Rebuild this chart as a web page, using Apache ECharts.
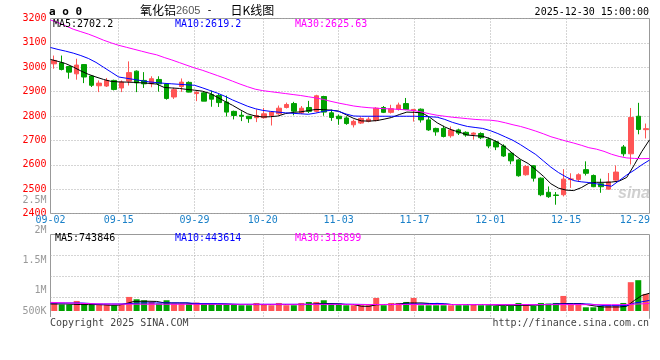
<!DOCTYPE html>
<html><head><meta charset="utf-8">
<script src="https://cdn.jsdelivr.net/npm/echarts@6.0.0/dist/echarts.min.js"></script>
<style>html,body{margin:0;padding:0;background:#fff}#c{width:660px;height:360px}</style>
</head><body><div id="c"></div>
<script>
const dates = ['09-02','09-03','09-04','09-05','09-08','09-09','09-10','09-11','09-12','09-15','09-16','09-17','09-18','09-19','09-22','09-23','09-24','09-25','09-26','09-29','09-30','10-09','10-10','10-13','10-14','10-15','10-16','10-17','10-20','10-21','10-22','10-23','10-24','10-27','10-28','10-29','10-30','10-31','11-03','11-04','11-05','11-06','11-07','11-10','11-11','11-12','11-13','11-14','11-17','11-18','11-19','11-20','11-21','11-24','11-25','11-26','11-27','11-28','12-01','12-02','12-03','12-04','12-05','12-08','12-09','12-10','12-11','12-12','12-15','12-16','12-17','12-18','12-19','12-22','12-23','12-24','12-25','12-26','12-29','12-30'];
const openP = [3014,3018,3003,2973,3011,2964,2924,2923,2946,2915, 2943,2984,2946,2932,2950,2932,2878,2921,2938,2892, 2895,2888,2884,2857,2819,2803,2799,2793,2793,2802, 2809,2835,2851,2812,2835,2819,2880,2813,2799,2792, 2764,2771,2778,2782,2835,2815,2828,2851,2822,2828, 2784,2749,2749,2719,2743,2733,2725,2728,2705,2694, 2677,2647,2620,2559,2596,2545,2487,2476,2477,2539, 2540,2580,2556,2522,2500,2537,2673,2645,2799,2744];
const closeP = [3028,2991,2980,3009,2960,2926,2935,2946,2909,2939, 2978,2936,2932,2953,2932,2872,2908,2939,2898,2897, 2861,2869,2855,2816,2802,2799,2789,2802,2809,2816, 2832,2847,2820,2832,2819,2883,2816,2794,2789,2769, 2778,2790,2787,2832,2815,2830,2845,2827,2827,2784, 2743,2735,2716,2743,2730,2722,2730,2711,2677,2673, 2636,2616,2555,2593,2545,2477,2469,2474,2541,2542, 2559,2565,2510,2510,2529,2570,2645,2794,2745,2748];
const highP = [3048,3048,3003,3035,3013,2966,2946,2956,2949,2946, 3024,2987,2980,2963,2963,2932,2916,2954,2942,2902, 2898,2904,2890,2884,2822,2819,2800,2827,2833,2820, 2843,2855,2858,2841,2862,2887,2883,2826,2806,2799, 2785,2795,2795,2836,2841,2846,2855,2874,2829,2831, 2800,2752,2760,2757,2748,2737,2733,2733,2712,2700, 2684,2650,2623,2599,2599,2548,2511,2488,2582,2565, 2565,2614,2560,2543,2566,2597,2681,2833,2854,2769];
const lowP = [2994,2987,2953,2949,2935,2919,2898,2919,2905,2898, 2925,2898,2915,2918,2900,2867,2870,2899,2897,2861, 2861,2838,2837,2798,2786,2779,2772,2775,2789,2761, 2805,2831,2803,2808,2812,2815,2801,2780,2764,2764, 2753,2767,2774,2778,2812,2810,2822,2824,2777,2773, 2739,2719,2712,2711,2722,2715,2703,2705,2668,2660, 2632,2602,2551,2555,2531,2471,2464,2436,2470,2505, 2530,2556,2508,2485,2498,2535,2634,2601,2725,2708];
const ma5 = [3032,3024,3015,3001,2985,2971,2960,2950,2942,2940, 2939,2938,2936,2934,2931,2917,2915,2913,2909,2906, 2902,2893,2877,2860,2844,2826,2809,2800,2796,2797, 2800,2810,2815,2817,2822,2827,2826,2824,2820,2805, 2790,2780,2779,2781,2787,2794,2806,2816,2815,2813, 2795,2772,2755,2742,2733,2722,2719,2717,2707,2692, 2672,2645,2622,2605,2580,2553,2522,2504,2496,2494, 2506,2524,2528,2528,2529,2533,2548,2600,2655,2702.2];
const ma10 = [3081,3073,3066,3058,3048,3036,3020,3000,2980,2960, 2955,2950,2945,2940,2937,2934,2932,2930,2928,2926, 2916,2905,2894,2881,2866,2853,2840,2830,2823,2819, 2816,2813,2811,2809,2807,2812,2819,2824,2819,2808, 2800,2799,2799,2799,2799,2799,2799,2799,2799,2798, 2797,2795,2786,2774,2765,2757,2753,2749,2740,2728, 2714,2700,2682,2662,2642,2616,2590,2568,2550,2535, 2530,2527,2522,2516,2512,2535,2558,2578,2600,2619.2];
const ma30 = [3194,3183,3170,3156,3146,3136,3124,3111,3100,3090, 3082,3074,3066,3058,3051,3040,3030,3019,3008,2997, 2988,2977,2966,2955,2943,2931,2920,2910,2904,2900, 2896,2892,2888,2884,2879,2874,2868,2860,2853,2847, 2841,2837,2834,2832,2830,2829,2827,2825,2822,2816, 2809,2803,2799,2795,2792,2789,2786,2784,2783,2779, 2772,2764,2757,2748,2738,2727,2715,2706,2697,2689, 2680,2670,2664,2655,2643,2634,2628,2626,2625,2625.63];
const volume = [353000,269000,269000,420000,269000,269000,269000,269000,239000,269000, 588000,491000,449000,378000,311000,449000,311000,311000,311000,353000, 311000,311000,269000,269000,269000,239000,239000,336000,269000,239000, 336000,239000,239000,336000,378000,378000,449000,311000,311000,239000, 239000,239000,239000,546000,239000,336000,336000,378000,546000,239000, 239000,239000,239000,239000,239000,239000,269000,239000,239000,210000, 210000,210000,336000,294000,210000,336000,311000,336000,630000,269000, 269000,155000,155000,197000,210000,210000,336000,1205000,1289000,714000];
const volMa5 = [294000,294000,294000,280000,270000,269000,269000,260000,240000,245000, 311000,400000,407000,407000,400000,340000,336000,336000,336000,300000, 294000,294000,294000,290000,275000,269000,269000,269000,269000,269000, 269000,269000,269000,269000,269000,300000,311000,311000,300000,269000, 269000,200000,197000,260000,269000,269000,290000,336000,336000,336000, 315000,311000,290000,269000,269000,269000,269000,269000,260000,239000, 239000,239000,239000,239000,245000,269000,269000,300000,311000,311000, 311000,250000,200000,168000,168000,168000,200000,440000,650000,743846];
const volMa10 = [336000,336000,336000,336000,336000,320000,294000,294000,294000,294000, 300000,320000,336000,336000,336000,336000,336000,336000,336000,320000, 311000,311000,311000,300000,290000,280000,280000,280000,280000,280000, 280000,280000,280000,280000,280000,282000,285000,290000,290000,285000, 280000,275000,270000,270000,272000,275000,280000,294000,294000,294000, 300000,320000,300000,269000,269000,269000,269000,269000,269000,269000, 269000,269000,269000,269000,269000,269000,280000,294000,294000,294000, 294000,294000,260000,225000,225000,225000,230000,330000,385000,443614];
const volMa30 = [360000,350000,340000,330000,320000,310000,300000,295000,290000,288000, 285000,284000,283000,282000,282000,281000,281000,280000,280000,280000, 280000,280000,280000,280000,280000,279000,279000,279000,278000,278000, 278000,278000,277000,277000,277000,277000,276000,276000,276000,275000, 274000,273000,272000,272000,271000,271000,271000,271000,271000,270000, 270000,270000,270000,270000,270000,269000,269000,269000,269000,268000, 268000,268000,268000,268000,268000,267000,267000,267000,267000,267000, 266000,266000,265000,265000,265000,265000,270000,285000,300000,315899];
const xLabelDates = ['09-02','09-15','09-29','10-20','11-03','11-17','12-01','12-15','12-29'];
const volTickLabels = ['500K','1M','1.5M','2M','2.5M'];

const MONO = '"DejaVu Sans Mono", monospace';
const UP = '#ff5555', DOWN = '#00a000';
const dotted = {type:[1,2], color:'#aaa', width:1};
const last = a => a[a.length - 1];
const vSplit = (i, v) => i > 0 && i < dates.length - 2 && xLabelDates.includes(v);

const chart = echarts.init(document.getElementById('c'), null, {renderer:'canvas'});
const G = {left:50.5, width:599};
const txt = (text, left, top, color, extra) => Object.assign({text, left, top, padding:0,
  textStyle:{fontFamily:MONO, fontSize:10, fontWeight:'normal', color, lineHeight:12}}, extra || {});

chart.setOption({
  animation:false,
  backgroundColor:'#fff',
  grid:[
    {left:G.left, width:G.width, top:18.5, height:195, show:true, borderColor:'#999', borderWidth:1, backgroundColor:'transparent'},
    {left:G.left, width:G.width, top:234.5, height:76.5},
    {left:G.left, width:G.width, top:234.5, height:84, show:true, borderColor:'#999', borderWidth:1, backgroundColor:'transparent'},
    {left:G.left, width:G.width, top:200, height:121}
  ],
  title:[
    txt('a o 0', 49, 6, '#000', {textStyle:{fontFamily:MONO, fontSize:11, fontWeight:'bold', color:'#000', lineHeight:12}}),
    {text:'{c|氧化铝}{n|2605}{m| - }{c|日K线图}', left:140, top:3.5, padding:0,
      textStyle:{fontWeight:'normal', rich:{
        c:{fontFamily:'"Noto Sans CJK SC"', fontSize:12, color:'#000', lineHeight:14, fontWeight:'normal'},
        n:{fontFamily:'"Liberation Sans"', fontSize:11, color:'#555', lineHeight:14, fontWeight:'normal'},
        m:{fontFamily:MONO, fontSize:10, color:'#000', lineHeight:14, fontWeight:'normal', padding:[0,12,0,0]}}}},
    txt('2025-12-30 15:00:00', null, 6, '#000', {right:11, left:undefined}),
    txt('MA5:' + last(ma5), 53, 18, '#000'),
    txt('MA10:' + last(ma10), 175, 18, '#0000ff'),
    txt('MA30:' + last(ma30), 295, 18, '#ff00ff'),
    txt('MA5:' + last(volMa5), 55, 232.5, '#000'),
    txt('MA10:' + last(volMa10), 175, 232.5, '#0000ff'),
    txt('MA30:' + last(volMa30), 295, 232.5, '#ff00ff'),
    txt('Copyright 2025 SINA.COM', 50, 317, '#444', {backgroundColor:'#fff'}),
    txt('http://finance.sina.com.cn', null, 317, '#444', {right:11, left:undefined, backgroundColor:'#fff'})
  ],
  graphic:[{type:'text', left:618, top:186, z:0, silent:true,
    style:{text:'sina', fill:'rgba(170,170,170,0.55)', font:'italic bold 16px "Liberation Sans"'}}],
  xAxis:[
    {gridIndex:0, type:'category', position:'top', data:dates, boundaryGap:true, show:false},
    {gridIndex:0, type:'category', position:'bottom', data:dates, boundaryGap:false,
      axisLine:{show:false}, axisTick:{show:false},
      axisLabel:{interval:(i, v) => xLabelDates.includes(v), margin:2, color:'#1a80c8', fontFamily:MONO, fontSize:10,
        formatter:v => v === last(xLabelDates) ? '{r|' + v + '}' : v,
        rich:{r:{padding:[0,14,0,0], color:'#1a80c8', fontFamily:MONO, fontSize:10}}},
      splitLine:{show:true, interval:vSplit, lineStyle:dotted}},
    {gridIndex:1, type:'category', position:'bottom', data:dates, boundaryGap:true, show:false},
    {gridIndex:1, type:'category', position:'top', data:dates, boundaryGap:false, show:false},
    {gridIndex:2, type:'category', position:'bottom', data:dates, boundaryGap:false,
      axisLine:{show:false}, axisTick:{show:false}, axisLabel:{show:false},
      splitLine:{show:true, interval:vSplit, lineStyle:dotted}},
    {gridIndex:3, type:'category', data:dates, show:false}
  ],
  yAxis:[
    {gridIndex:0, type:'value', min:2400, max:3200, interval:100,
      axisLine:{show:false}, axisTick:{show:false},
      axisLabel:{color:'#ff0000', fontFamily:MONO, fontSize:10, margin:4, padding:[0,0,5,0], formatter:v => String(v)},
      splitLine:{show:true, lineStyle:dotted}},
    {gridIndex:1, type:'value', min:0, max:3200000, show:false},
    {gridIndex:2, type:'category', data:['0','1','2','3','4'], boundaryGap:false,
      axisLine:{show:false}, axisTick:{show:false}, axisLabel:{show:false},
      splitLine:{show:true, interval:(i) => i >= 1 && i <= 3, lineStyle:dotted}},
    {gridIndex:3, type:'category', data:volTickLabels, boundaryGap:false,
      axisLine:{show:false}, axisTick:{show:false}, splitLine:{show:false},
      axisLabel:{interval:0, color:'#999', fontFamily:MONO, fontSize:10, margin:4,
        formatter:v => v === volTickLabels[0] ? '{s|' + v + '}' : v,
        rich:{s:{padding:[0,0,20,0], color:'#999', fontFamily:MONO, fontSize:10}}}}
  ],
  series:[
    {type:'candlestick', xAxisIndex:0, yAxisIndex:0, barWidth:5,
      data:dates.map((d, i) => [openP[i], closeP[i], lowP[i], highP[i]]),
      itemStyle:{color:UP, color0:DOWN, borderColor:UP, borderColor0:DOWN, borderWidth:1}},
    {type:'line', name:'MA5', xAxisIndex:1, yAxisIndex:0, data:ma5, symbol:'none', lineStyle:{color:'#000', width:1}, z:3},
    {type:'line', name:'MA10', xAxisIndex:1, yAxisIndex:0, data:ma10, symbol:'none', lineStyle:{color:'#0000ff', width:1}, z:3},
    {type:'line', name:'MA30', xAxisIndex:1, yAxisIndex:0, data:ma30, symbol:'none', lineStyle:{color:'#ff00ff', width:1}, z:3},
    {type:'bar', xAxisIndex:2, yAxisIndex:1, barWidth:6,
      data:volume.map((v, i) => ({value:v, itemStyle:{color: closeP[i] >= openP[i] ? UP : DOWN}}))},
    {type:'line', xAxisIndex:3, yAxisIndex:1, data:volMa5, symbol:'none', lineStyle:{color:'#000', width:1}, z:3},
    {type:'line', xAxisIndex:3, yAxisIndex:1, data:volMa10, symbol:'none', lineStyle:{color:'#0000ff', width:1}, z:3},
    {type:'line', xAxisIndex:3, yAxisIndex:1, data:volMa30, symbol:'none', lineStyle:{color:'#ff00ff', width:1}, z:3}
  ]
});
</script></body></html>
